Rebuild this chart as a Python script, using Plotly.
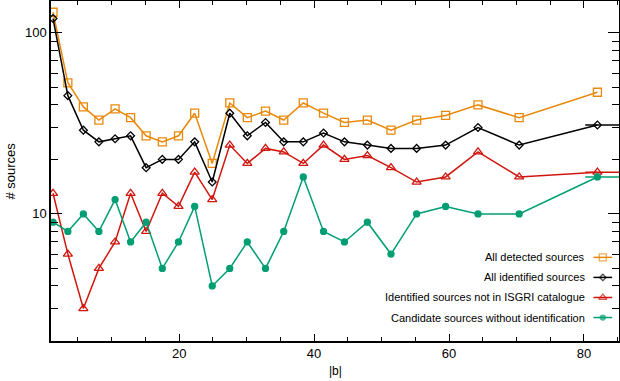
import plotly.graph_objects as go

# |b| bin centres
b = [1.3, 3.5, 5.8, 8.1, 10.5, 12.8, 15.1, 17.5, 19.9, 22.3, 24.9, 27.5, 30.1,
     32.8, 35.5, 38.4, 41.4, 44.5, 47.9, 51.4, 55.2, 59.5, 64.3, 70.4, 82.0]

all_detected = [130, 53, 39, 33, 38, 34, 27, 25, 27, 36, 19, 41, 34,
                37, 33, 41, 36, 32, 33, 29, 33, 35, 40, 34, 47]
all_identified = [120, 45, 29, 25, 26, 27, 18, 20, 20, 25, 15, 36, 27,
                  32, 25, 25, 28, 25, 24, 23, 23, 24, 30, 24, 31]
not_in_isgri = [13, 6, 3, 5, 7, 13, 8, 13, 11, 17, 12, 24, 19,
                23, 22, 19, 24, 20, 21, 18, 15, 16, 22, 16, 17]
candidates = [9, 8, 10, 8, 12, 7, 9, 5, 7, 11, 4, 5, 7,
              5, 8, 16, 8, 7, 9, 6, 10, 11, 10, 10, 16]

# short flat segments drawn past the last bin
tail_x = [80.2, 86]

names = ["All detected sources", "All identified sources",
         "Identified sources not in ISGRI catalogue",
         "Candidate sources without identification"]

series = [all_detected, all_identified, not_in_isgri, candidates]
colors = ["#E8890C", "#000000", "#D0160E", "#009E73"]
symbols = ["square-open", "diamond-open", "triangle-up-open", "circle"]
sizes = [8, 6, 8, 6]

fig = go.Figure()
for vals, col, sym, sz in zip(series, colors, symbols, sizes):
    fig.add_trace(go.Scatter(x=b, y=vals, mode="lines+markers",
                             line=dict(color=col, width=1.5),
                             marker=dict(symbol=sym, size=sz, color=col,
                                         line=dict(color=col, width=1.3)),
                             showlegend=False))
for vals, col in zip(series[1:], colors[1:]):
    fig.add_trace(go.Scatter(x=tail_x, y=[vals[-1]] * 2, mode="lines",
                             line=dict(color=col, width=1.5),
                             showlegend=False))

# legend: text on the left, sample line on the right (hidden overlay axes)
leg_y = [0.246, 0.187, 0.128, 0.069]
for name, col, sym, sz, yy in zip(names, colors, symbols, sizes, leg_y):
    fig.add_trace(go.Scatter(x=[0.955, 0.9715, 0.988], y=[yy] * 3,
                             mode="lines+markers", xaxis="x2", yaxis="y2",
                             line=dict(color=col, width=1.5),
                             marker=dict(symbol=sym, size=[0, sz - 1, 0],
                                         color=col,
                                         line=dict(color=col, width=1.3)),
                             showlegend=False))
    fig.add_annotation(x=0.943, y=yy, xref="x2", yref="y2", text=name,
                       showarrow=False, xanchor="right", yanchor="middle",
                       font=dict(size=11, color="black"))

# axis titles
fig.add_annotation(x=0.5, y=-0.088, xref="paper", yref="paper", text="|b|",
                   showarrow=False, yanchor="middle", font=dict(size=12))
fig.add_annotation(x=-0.073, y=0.5, xref="paper", yref="paper",
                   text="# sources", showarrow=False, textangle=-90,
                   xanchor="center", font=dict(size=13))

axis_common = dict(showline=True, linecolor="black", linewidth=1.5,
                   mirror="allticks", ticks="inside", tickcolor="black",
                   tickwidth=1.2, showgrid=False, zeroline=False,
                   automargin=False,
                   tickfont=dict(size=13, color="black"))

fig.update_layout(
    width=620, height=381,
    margin=dict(l=51, r=1, t=1, b=40),
    paper_bgcolor="white", plot_bgcolor="white",
    font=dict(family="Liberation Sans, Arial, sans-serif", color="black"),
    xaxis=dict(range=[1, 85.2], tickvals=[20, 40, 60, 80], ticklen=7,
               minor=dict(dtick=5, tick0=0, ticks="inside", ticklen=4,
                          tickcolor="black", tickwidth=1.2),
               **axis_common),
    yaxis=dict(type="log", range=[0.298, 2.176], tickvals=[10, 100],
               ticktext=["10", "100"], ticklen=11,
               minor=dict(tickvals=[2, 3, 4, 5, 6, 7, 8, 9, 20, 30, 40, 50,
                                    60, 70, 80, 90],
                          ticks="inside", ticklen=7, tickcolor="black",
                          tickwidth=1.2),
               **axis_common),
    xaxis2=dict(overlaying="x", range=[0, 1], visible=False),
    yaxis2=dict(overlaying="y", range=[0, 1], visible=False),
)

fig.write_html("out.html", config={"displayModeBar": False},
               post_script="document.body.style.margin='0';"
                           "document.body.style.overflow='hidden';")
